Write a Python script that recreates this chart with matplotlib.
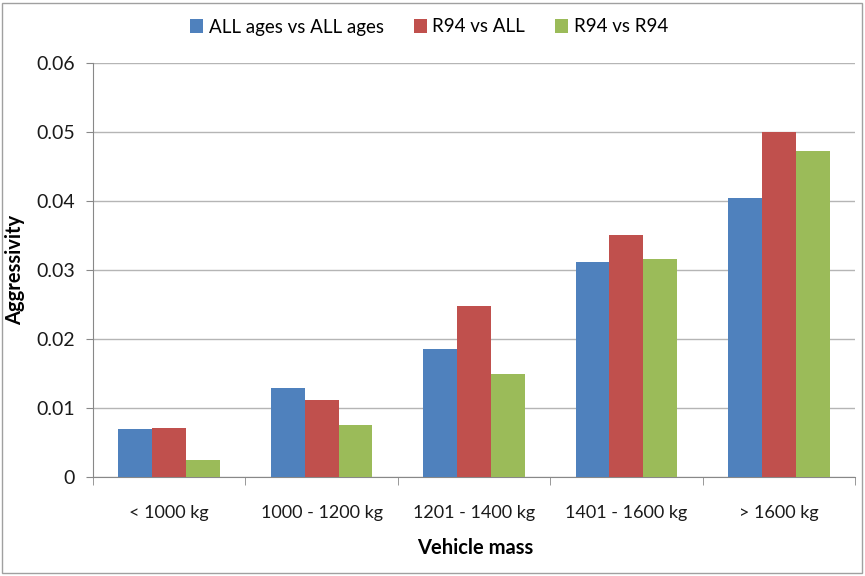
import matplotlib
matplotlib.use("Agg")
import matplotlib.pyplot as plt
import numpy as np
from matplotlib.patches import Rectangle

categories = ["< 1000 kg", "1000 - 1200 kg", "1201 - 1400 kg", "1401 - 1600 kg", "> 1600 kg"]
series_names = ["ALL ages vs ALL ages", "R94 vs ALL", "R94 vs R94"]
all_vs_all = [0.0069, 0.0129, 0.0186, 0.0312, 0.0404]
r94_vs_all = [0.0071, 0.0112, 0.0248, 0.0350, 0.0500]
r94_vs_r94 = [0.0024, 0.0075, 0.0150, 0.0316, 0.0472]
yticks = [0, 0.01, 0.02, 0.03, 0.04, 0.05, 0.06]
ytick_labels = ["0", "0.01", "0.02", "0.03", "0.04", "0.05", "0.06"]
colors = ["#4F81BD", "#C0504D", "#9BBB59"]

plt.rcParams['font.family'] = ['Lato', 'DejaVu Sans']

fig = plt.figure(figsize=(8.65, 5.76), dpi=100)
ax = fig.add_axes([93/865, 99/576, (855-93)/865, (477-63)/576])

x = np.arange(len(categories))
w = 1/4.5
for i, (vals, name) in enumerate(zip([all_vs_all, r94_vs_all, r94_vs_r94], series_names)):
    ax.bar(x + (i-1)*w, vals, width=w, color=colors[i], label=name, zorder=3)

ax.set_xlim(-0.5, len(categories)-0.5)
ax.set_ylim(0, 0.06)
ax.set_yticks(yticks)
ax.set_yticklabels(ytick_labels, fontsize=14, color='#1a1a1a')
ax.set_xticks(x)
ax.set_xticklabels(categories, fontsize=13, color='#1a1a1a')
ax.tick_params(axis='x', length=0, pad=20)
ax.set_xticks(np.arange(-0.5, len(categories), 1), minor=True)
ax.tick_params(axis='x', which='minor', length=6, color='#888888', direction='out')
ax.tick_params(axis='y', length=5, color='#888888', direction='out', pad=8)
ax.grid(axis='y', color='#b5b5b5', linewidth=1, zorder=0)
for s in ['top', 'right']:
    ax.spines[s].set_visible(False)
for s in ['left', 'bottom']:
    ax.spines[s].set_color('#888888')

fig.text(15/865, 1-270/576, "Aggressivity", fontsize=14.5, fontweight='bold',
         rotation=90, ha='center', va='center')
fig.text(475/865, 1-548/576, "Vehicle mass", fontsize=14.5, fontweight='bold',
         ha='center', va='center')

fig.legend(loc='center', bbox_to_anchor=(429/865, 1-27/576), ncol=3, frameon=False,
           fontsize=13.5, handlelength=0.7, handleheight=0.7, columnspacing=1.6, handletextpad=0.3)

fig.patches.append(Rectangle((0.002, 0.005), 0.995, 0.99, transform=fig.transFigure,
                             fill=False, edgecolor='#a0a0a0', linewidth=1))

fig.savefig("out.png", dpi=100)
